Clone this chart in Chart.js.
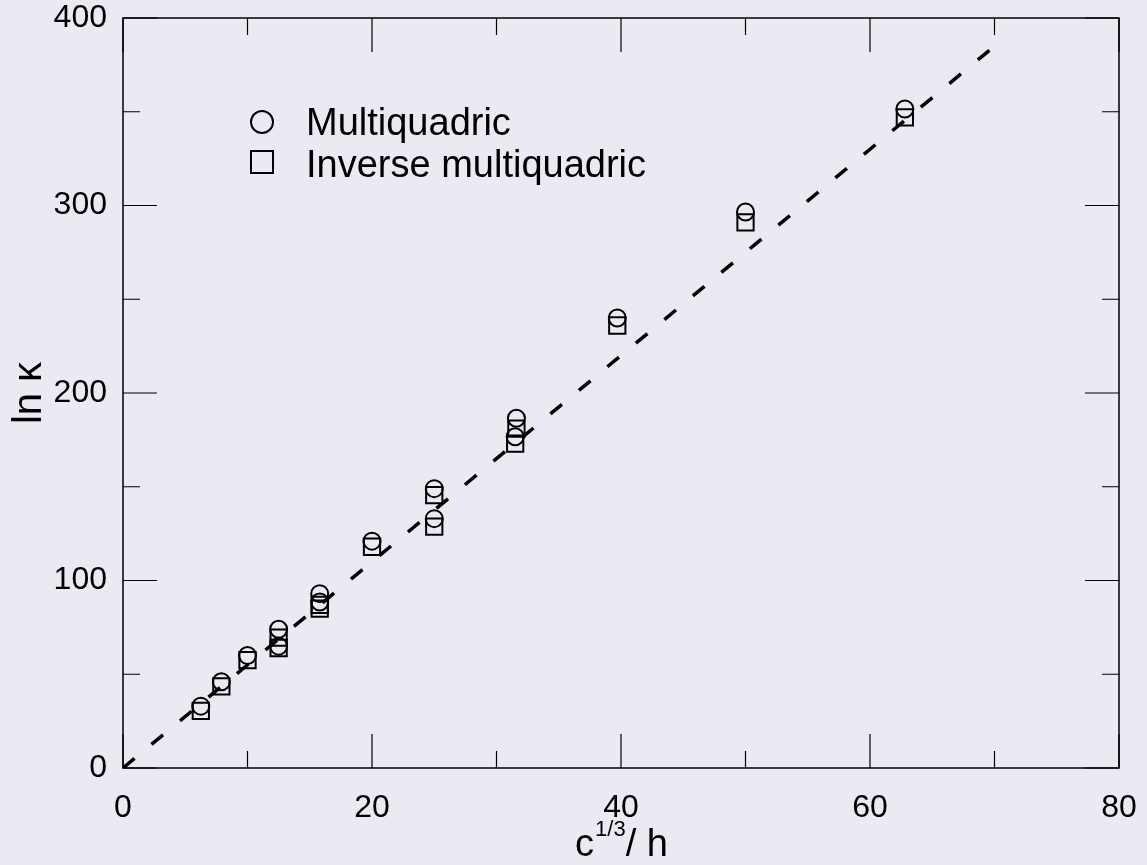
<!DOCTYPE html>
<html>
<head>
<meta charset="utf-8">
<script src="https://cdn.jsdelivr.net/npm/chart.js@4.4.1/dist/chart.umd.min.js"></script>
<style>
  html, body { margin: 0; padding: 0; background: #eaeaf2; overflow: hidden; }
  #chart { display: block; }
</style>
</head>
<body>
<canvas id="chart" width="1147" height="865"></canvas>
<script>
// c^(1/3)/h values and ln(kappa)
const xMulti = [6.25, 7.9, 10, 12.5, 12.5, 15.8, 15.8, 20, 25, 25, 31.6, 31.5, 39.7, 50, 62.8];
const yMulti = [33, 46, 60, 74, 65, 93, 88.5, 121, 149, 133, 186.5, 176.7, 240, 296.5, 351.5];
const xInverse = [6.25, 7.9, 10, 12.5, 12.5, 15.8, 15.8, 20, 25, 25, 31.6, 31.5, 39.7, 50, 62.8];
const yInverse = [30.5, 43.5, 57.5, 69.5, 64, 87, 85, 118, 145.5, 128.7, 181, 173, 236, 291, 347];
const fitX = [0, 70];
const fitY = [0, 385];
const seriesLabels = ["Multiquadric", "Inverse multiquadric"];
const xTicks = [0, 20, 40, 60, 80];
const yTicks = [0, 100, 200, 300, 400];

function toPoints(xs, ys) {
    return xs.map((x, i) => ({ x: x, y: ys[i] }));
}

// pas de marge auto autour des étiquettes
function noPad(s) {
    s.paddingTop = 0; s.paddingBottom = 0;
    s.paddingLeft = 0; s.paddingRight = 0;
}

// fond + cadre + graduations intérieures + titres + légende
const decor = {
    id: 'decor',
    beforeDraw(chart) {
        const ctx = chart.ctx;
        ctx.save();
        ctx.fillStyle = '#eaeaf2';
        ctx.fillRect(0, 0, chart.width, chart.height);
        ctx.restore();
    },
    afterDraw(chart) {
        const ctx = chart.ctx;
        const a = chart.chartArea;
        const xs = chart.scales.x, ys = chart.scales.y;
        ctx.save();
        ctx.strokeStyle = '#000';
        ctx.lineWidth = 1.5;
        ctx.strokeRect(a.left, a.top, a.right - a.left, a.bottom - a.top);

        ctx.lineWidth = 1.2;
        ctx.beginPath();
        for (let v = 0; v <= 80; v += 10) {
            const px = xs.getPixelForValue(v);
            const len = v % 20 === 0 ? 34 : 17;
            ctx.moveTo(px, a.bottom); ctx.lineTo(px, a.bottom - len);
            ctx.moveTo(px, a.top); ctx.lineTo(px, a.top + len);
        }
        for (let v = 0; v <= 400; v += 50) {
            const py = ys.getPixelForValue(v);
            const len = v % 100 === 0 ? 34 : 17;
            ctx.moveTo(a.left, py); ctx.lineTo(a.left + len, py);
            ctx.moveTo(a.right, py); ctx.lineTo(a.right - len, py);
        }
        ctx.stroke();

        // titre axe y
        ctx.fillStyle = '#000';
        ctx.translate(30, (a.top + a.bottom) / 2);
        ctx.rotate(-Math.PI / 2);
        ctx.font = '40px "Liberation Sans", Arial, sans-serif';
        ctx.textAlign = 'center';
        ctx.textBaseline = 'middle';
        ctx.fillText('ln \u03BA', 0, 0);
        ctx.setTransform(1, 0, 0, 1, 0, 0);

        // titre axe x : c^{1/3}/ h
        const big = '38px "Liberation Sans", Arial, sans-serif';
        const small = '22px "Liberation Sans", Arial, sans-serif';
        ctx.textAlign = 'left';
        ctx.textBaseline = 'alphabetic';
        ctx.font = big;
        const wc = ctx.measureText('c').width;
        const wh = ctx.measureText('/ h').width;
        ctx.font = small;
        const ws = ctx.measureText('1/3').width;
        let x0 = (a.left + a.right) / 2 - (wc + ws + wh) / 2;
        const base = 856;
        ctx.font = big;
        ctx.fillText('c', x0, base);
        ctx.font = small;
        ctx.fillText('1/3', x0 + wc + 1, base - 20);
        ctx.font = big;
        ctx.fillText('/ h', x0 + wc + ws + 1, base);

        // légende
        ctx.lineWidth = 2;
        ctx.beginPath();
        ctx.arc(262, 122, 11, 0, Math.PI * 2);
        ctx.stroke();
        ctx.strokeRect(251, 151, 22, 22);
        ctx.font = '38px "Liberation Sans", Arial, sans-serif';
        ctx.fillText(seriesLabels[0], 306, 135);
        ctx.fillText(seriesLabels[1], 306, 177);
        ctx.restore();
    }
};

const ctx = document.getElementById('chart').getContext('2d');
new Chart(ctx, {
    type: 'scatter',
    data: {
        datasets: [
            {
                label: seriesLabels[0],
                data: toPoints(xMulti, yMulti),
                pointStyle: 'circle',
                pointRadius: 8.5,
                borderColor: '#000',
                backgroundColor: 'rgba(0,0,0,0)',
                borderWidth: 2
            },
            {
                label: seriesLabels[1],
                data: toPoints(xInverse, yInverse),
                pointStyle: 'rect',
                pointRadius: 11.5,
                borderColor: '#000',
                backgroundColor: 'rgba(0,0,0,0)',
                borderWidth: 2
            },
            {
                type: 'line',
                label: 'fit',
                data: toPoints(fitX, fitY),
                borderColor: '#000',
                borderWidth: 3.5,
                borderDash: [15, 22],
                pointRadius: 0,
                fill: false
            }
        ]
    },
    options: {
        responsive: false,
        animation: false,
        devicePixelRatio: 1,
        layout: { padding: { left: 0, top: 18, right: 28, bottom: 0 } },
        plugins: {
            legend: { display: false },
            tooltip: { enabled: false }
        },
        scales: {
            x: {
                type: 'linear',
                min: 0, max: 80,
                afterFit: s => { s.height = 97; noPad(s); },
                afterBuildTicks: s => { s.ticks = xTicks.map(v => ({ value: v })); },
                grid: { display: false, drawTicks: false },
                border: { display: false },
                ticks: {
                    color: '#000',
                    font: { family: '"Liberation Sans", Arial, sans-serif', size: 32 },
                    padding: 21,
                    maxRotation: 0
                }
            },
            y: {
                type: 'linear',
                min: 0, max: 400,
                afterFit: s => { s.width = 123; noPad(s); },
                afterBuildTicks: s => { s.ticks = yTicks.map(v => ({ value: v })); },
                grid: { display: false, drawTicks: false },
                border: { display: false },
                ticks: {
                    color: '#000',
                    font: { family: '"Liberation Sans", Arial, sans-serif', size: 32 },
                    padding: 16
                }
            }
        }
    },
    plugins: [decor]
});
</script>
</body>
</html>
